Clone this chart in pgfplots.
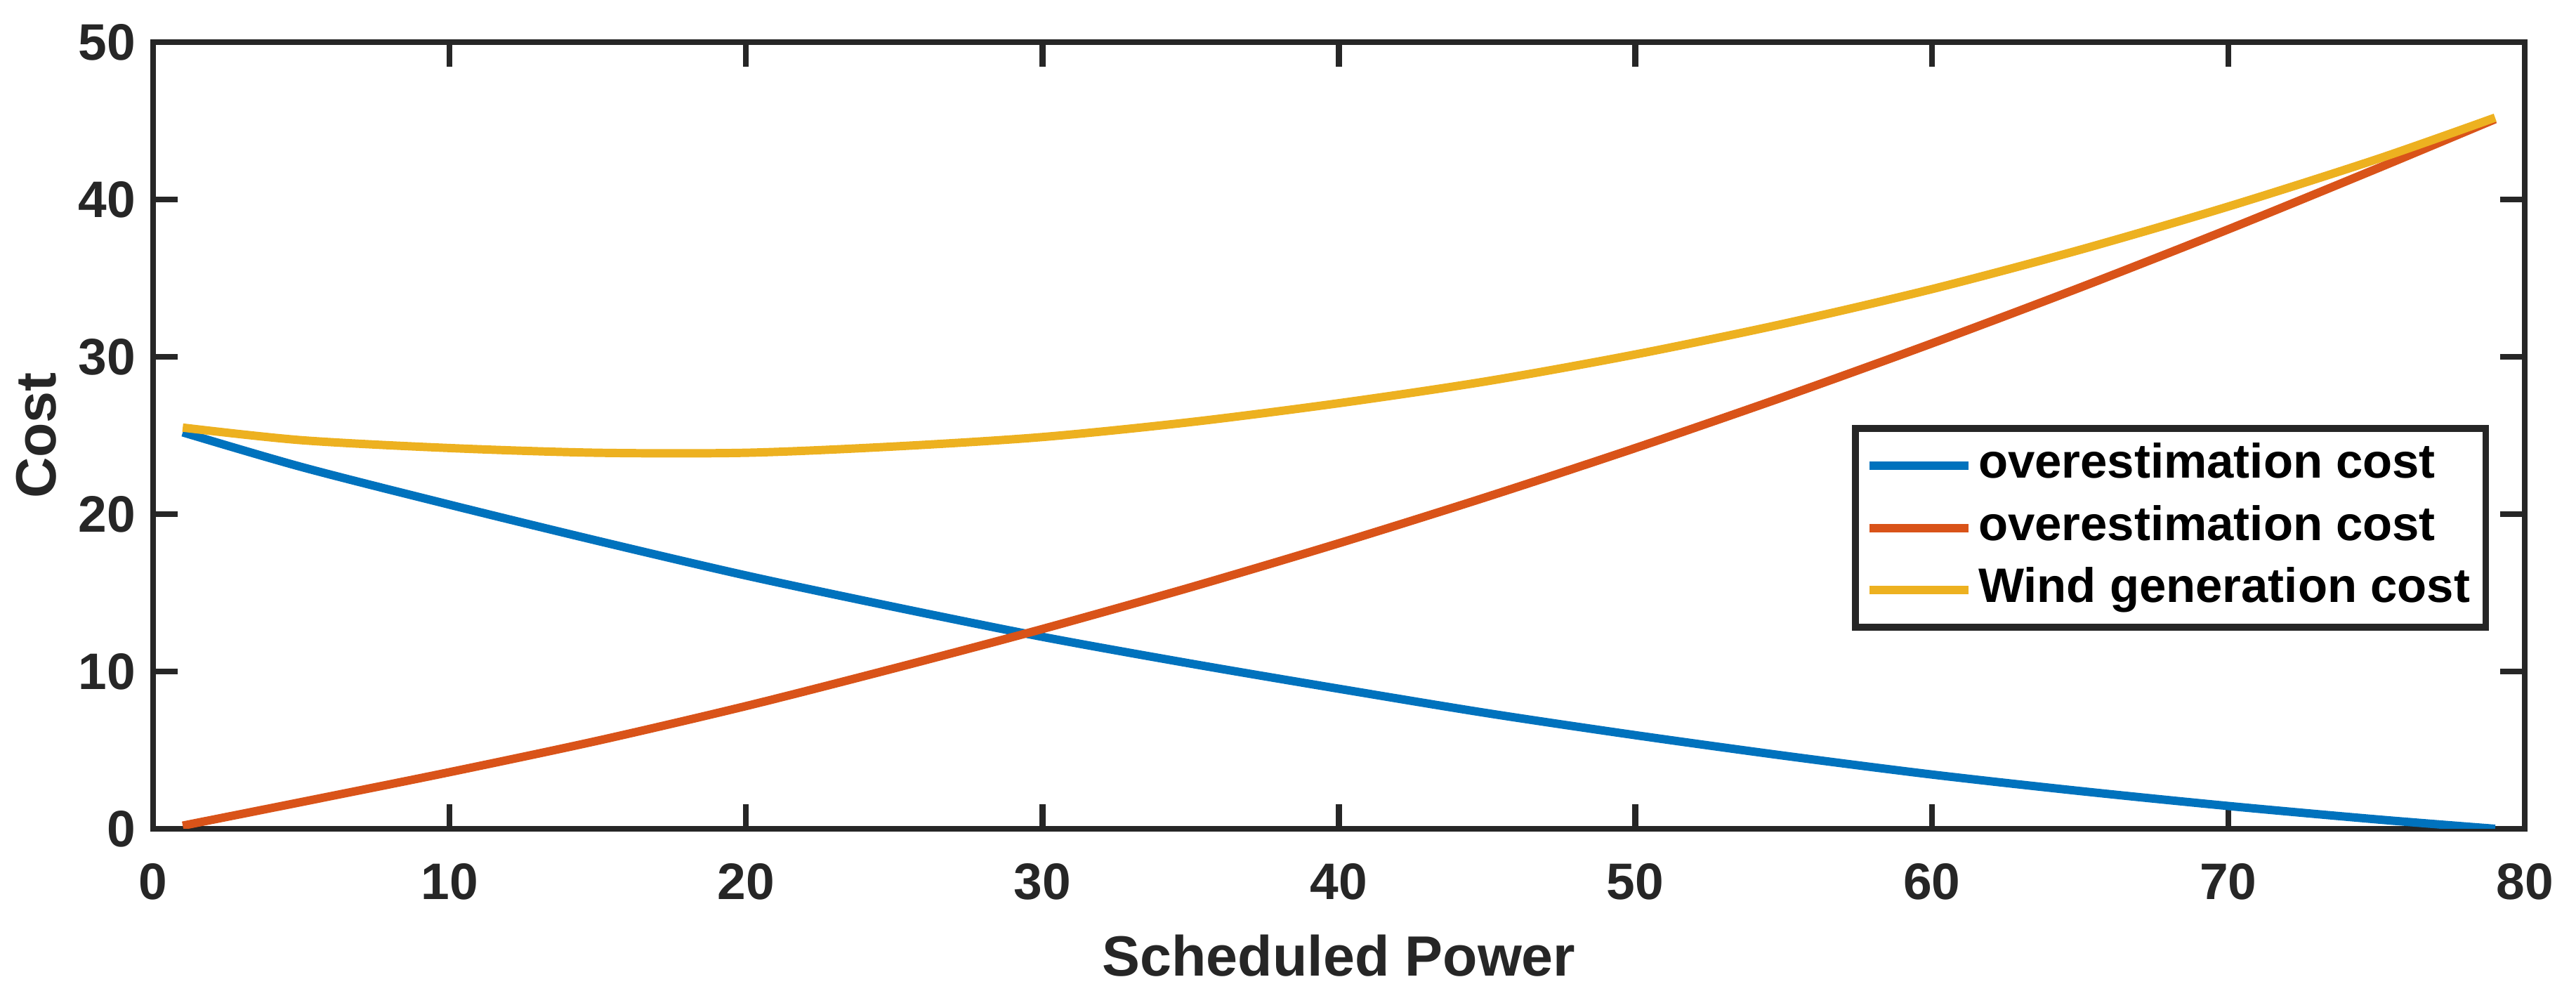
\documentclass[border=0pt]{standalone}
\usepackage{fontspec}
\setmainfont{Liberation Sans}
\usepackage{pgfplots}
\pgfplotsset{compat=1.18}
\definecolor{mlaxis}{HTML}{262626}
\definecolor{mlblue}{HTML}{0072BD}
\definecolor{mlorange}{HTML}{D95319}
\definecolor{mlyellow}{HTML}{EDB120}
\begin{document}
\begin{tikzpicture}
\useasboundingbox (-1.09cm,-1.24cm) rectangle (17.25cm,5.90cm);
\begin{axis}[
  scale only axis,
  width=16.885cm,
  height=5.6cm,
  xmin=0, xmax=80,
  ymin=0, ymax=50,
  xtick={0,10,...,80},
  ytick={0,10,...,50},
  tick align=inside,
  major tick length=5pt,
  axis line style={mlaxis, line width=1.2pt},
  every tick/.style={mlaxis, line width=1.2pt},
  /pgf/number format/assume math mode=true,
  tick label style={font=\bfseries\fontsize{10.4}{12}\selectfont, text=mlaxis},
  xticklabel style={yshift=-3.5pt},
  label style={font=\bfseries\fontsize{11.5}{13}\selectfont, text=mlaxis},
  xlabel={Scheduled Power},
  ylabel={Cost},
  xlabel style={at={(axis description cs:0.5,0)}, anchor=north, yshift=-18pt},
  ylabel style={at={(axis description cs:-0.0333,0.5)}, rotate=0, anchor=south},
  legend cell align=left,
  legend image code/.code={\draw[line width=1.7pt] (0pt,0pt) -- (20pt,0pt);},
  legend style={
    at={(axis description cs:0.985,0.252)}, anchor=south east,
    draw=mlaxis, line width=1.4pt,
    font=\bfseries\fontsize{9.8}{11}\selectfont, text=black,
    inner xsep=2pt, inner ysep=1.5pt,
    nodes={inner sep=1.2pt, text height=7.3pt, text depth=2.3pt},
    row sep=0.6pt
  },
  every axis plot/.append style={line width=1.7pt, smooth}
]
% overestimation cost (decreasing)
\addplot[mlblue] coordinates {
  (1,25.2) (5,23.0) (10,20.6) (15,18.3) (20,16.1) (25,14.1) (30,12.2)
  (35,10.5) (40,8.9) (45,7.35) (50,5.95) (55,4.65) (60,3.45) (65,2.4)
  (70,1.45) (75,0.6) (79,0.0)
};
\addlegendentry{overestimation cost}
% overestimation cost (increasing)
\addplot[mlorange] coordinates {
  (1,0.2) (5,1.7) (10,3.6) (15,5.6) (20,7.8) (25,10.2) (30,12.7)
  (35,15.35) (40,18.15) (45,21.1) (50,24.2) (55,27.45) (60,30.85) (65,34.4)
  (70,38.1) (75,41.95) (79,45.1)
};
\addlegendentry{overestimation cost}
% wind generation cost
\addplot[mlyellow] coordinates {
  (1,25.5) (5,24.7) (10,24.2) (15,23.9) (20,23.9) (25,24.3) (30,24.9)
  (35,25.85) (40,27.05) (45,28.45) (50,30.15) (55,32.1) (60,34.3) (65,36.8)
  (70,39.55) (75,42.55) (79,45.2)
};
\addlegendentry{Wind generation cost}
\end{axis}
\end{tikzpicture}
\end{document}
